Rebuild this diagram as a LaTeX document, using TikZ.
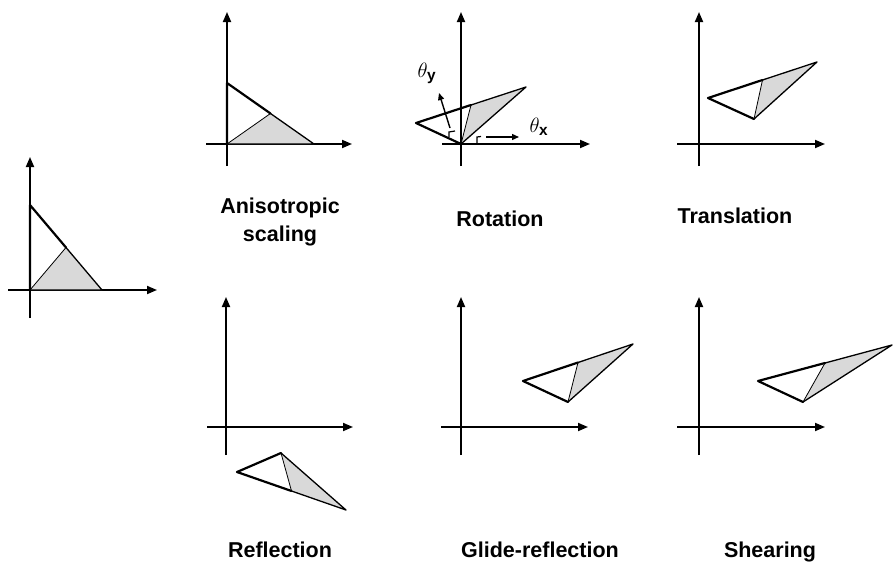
\documentclass[tikz,border=0pt]{standalone}
\usepackage{fontspec}
\setmainfont{Liberation Sans}
\usetikzlibrary{arrows.meta,calc}
\definecolor{triGray}{RGB}{217,217,217}
\tikzset{
  axis/.style={line width=1.8pt, -{Triangle[length=10pt,width=8pt]}},
  thickedge/.style={line width=2.2pt, line join=round, line cap=round},
  medge/.style={line width=1.3pt, line join=round},
  thinedge/.style={line width=0.8pt},
  smallarrow/.style={line width=1.4pt, -{Triangle[length=7pt,width=6pt]}},
  markline/.style={line width=1.2pt},
  lbl/.style={font=\fontsize{21.5}{26}\selectfont\bfseries, anchor=base, inner sep=0pt},
  mlbl/.style={font=\fontsize{22}{26}\selectfont, inner sep=0pt}
}
\newcommand{\mytri}[4]{%
  \coordinate (#1O) at #2;
  \coordinate (#1A) at #3;
  \coordinate (#1B) at #4;
  \coordinate (#1M) at ($(#1A)!0.5!(#1B)$);
  \fill[triGray] (#1O) -- (#1M) -- (#1B) -- cycle;
  \draw[medge] (#1M) -- (#1B) -- (#1O);
  \draw[thinedge] (#1O) -- (#1M);
  \draw[thickedge] (#1M) -- (#1A) -- (#1O);
}
\newcommand{\myaxes}[7]{% name, vx, vbot, vtop, hy, hleft, hright
  \coordinate (#1vb) at (#2,#3);
  \coordinate (#1vt) at (#2,#4);
  \coordinate (#1hl) at (#6,#5);
  \coordinate (#1hr) at (#7,#5);
  \draw[axis] (#1vb) -- (#1vt);
  \draw[axis] (#1hl) -- (#1hr);
}
\begin{document}
\begin{tikzpicture}[x=1pt,y=-1pt]
\useasboundingbox (0,0) rectangle (895,562);
% original
\myaxes{org}{30}{318}{157}{290}{8}{157}
\mytri{org}{(30,290)}{(30,205)}{(102,290)}
% anisotropic scaling
\myaxes{ani}{227}{166}{12}{144}{206}{352}
\mytri{ani}{(227,144)}{(227,83)}{(314,144)}
\node[lbl] (anil1) at (280,213) {Anisotropic};
\node[lbl] (anil2) at (280,241) {scaling};
% rotation
\myaxes{rot}{461}{166}{12}{144}{442}{590}
\mytri{rot}{(461,144)}{(416,123)}{(526,87)}
\coordinate (ty0) at (450,128);
\coordinate (ty1) at (439,93);
\draw[smallarrow] (ty0) -- (ty1);
\coordinate (tx0) at (486,137);
\coordinate (tx1) at (519,137);
\draw[smallarrow] (tx0) -- (tx1);
\draw[markline] (449,137) -- (449,132) -- (455,131);
\draw[markline] (477,143) -- (477,137) -- (481,136.5);
\node[mlbl] (thy) at (427,73) {$\theta_{\mathbf{y}}$};
\node[mlbl] (thx) at (539,127) {$\theta_{\mathbf{x}}$};
\node[lbl] (rotl) at (500,226) {Rotation};
% translation
\myaxes{tra}{699}{166}{12}{144}{677}{825}
\mytri{tra}{(754,119)}{(708,98)}{(817,62)}
\node[lbl] (tral) at (735,223) {Translation};
% reflection
\myaxes{ref}{226}{455}{297}{427}{207}{353}
\mytri{ref}{(281,453)}{(237,472)}{(346,510)}
\node[lbl] (refl) at (280,557) {Reflection};
% glide reflection
\myaxes{gli}{461}{455}{297}{427}{441}{588}
\mytri{gli}{(568,402)}{(523,381)}{(633,344)}
\node[lbl] (glil) at (540,557) {Glide-reflection};
% shearing
\myaxes{she}{699}{455}{297}{427}{677}{825}
\mytri{she}{(803,402)}{(758,381)}{(892,345)}
\node[lbl] (shel) at (770,557) {Shearing};
\end{tikzpicture}
\end{document}
